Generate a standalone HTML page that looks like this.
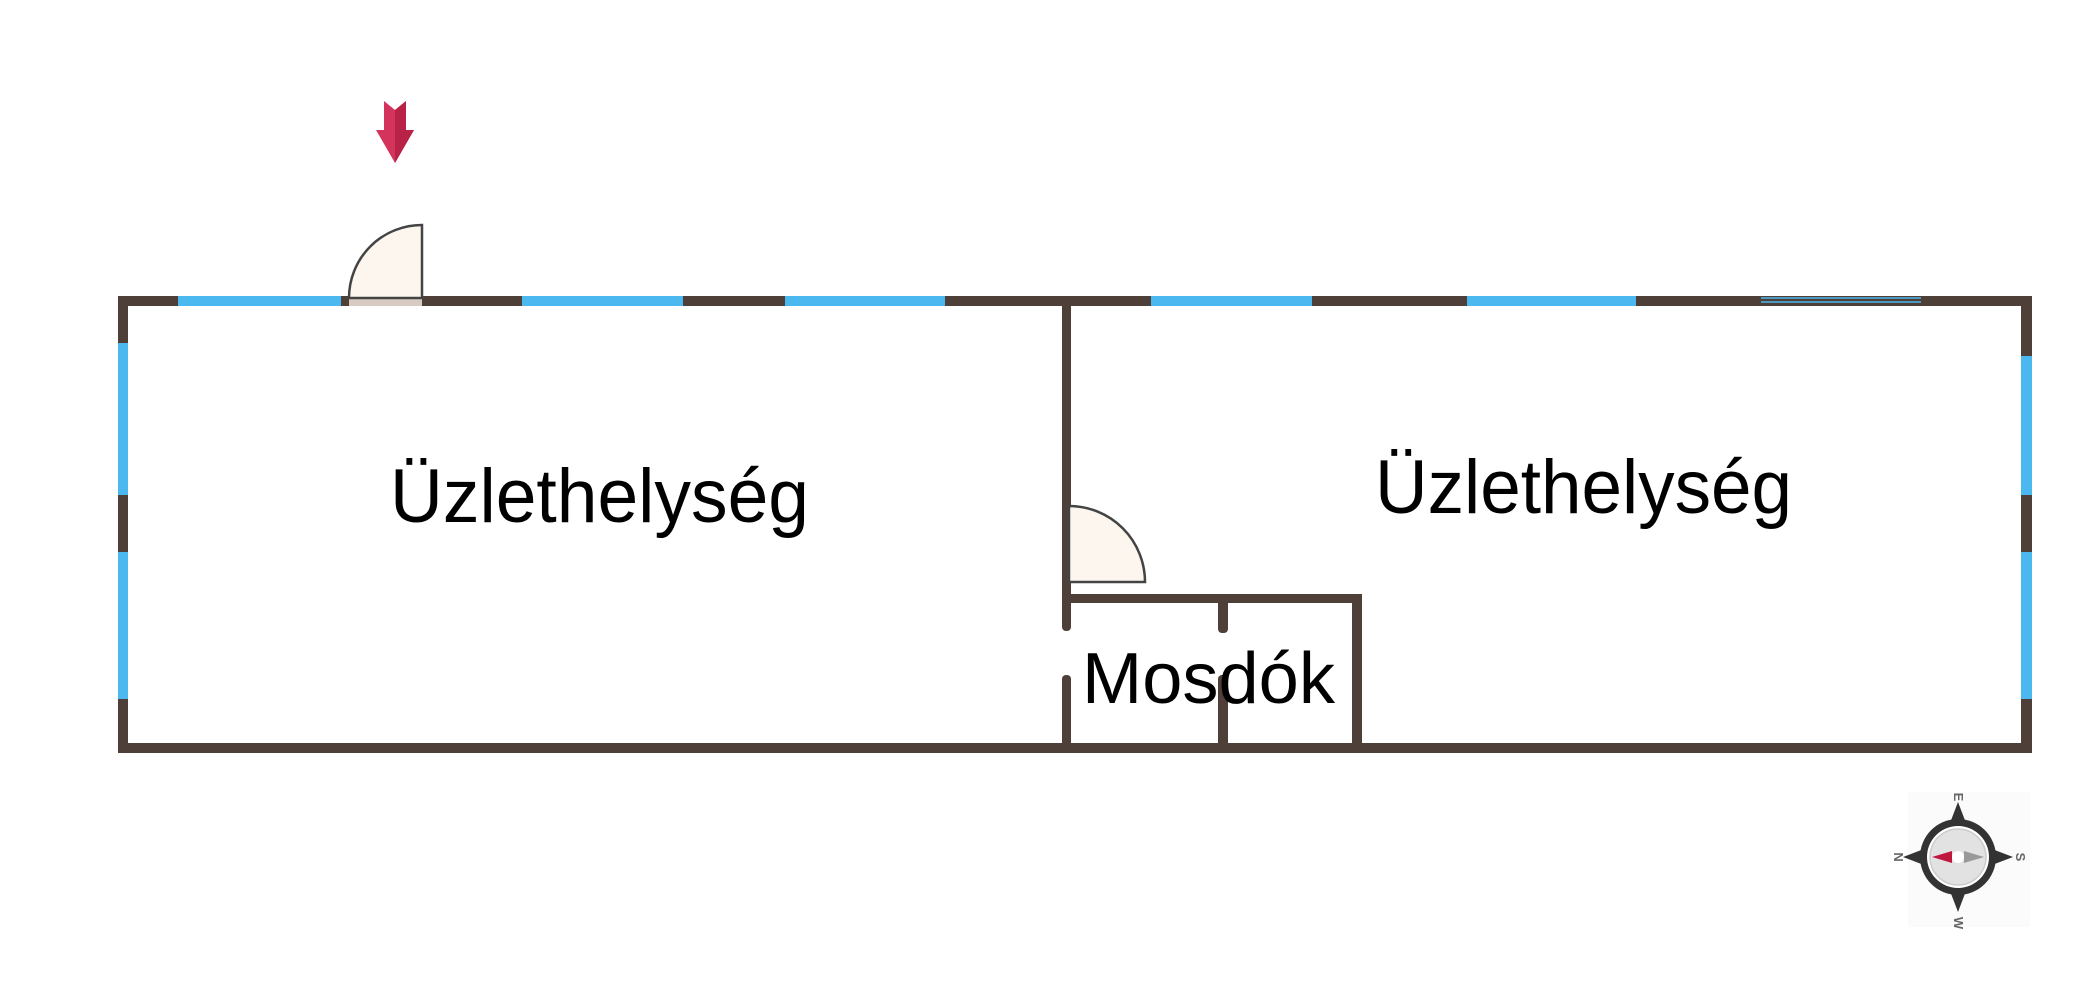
<!DOCTYPE html>
<html><head><meta charset="utf-8"><style>
html,body{margin:0;padding:0;background:#fff;}
svg{display:block;}
text{font-family:"Liberation Sans",Arial,sans-serif;fill:#000;}
</style></head><body>
<svg width="2100" height="1000" viewBox="0 0 2100 1000" xmlns="http://www.w3.org/2000/svg">
<g fill="#4e4038">
<rect x="118" y="296" width="1914" height="10"/>
<rect x="118" y="743" width="1914" height="10"/>
<rect x="118" y="296" width="10" height="457"/>
<rect x="2021" y="296" width="11" height="457"/>
<rect x="1062" y="296" width="9" height="335" rx="4"/>
<rect x="1062" y="675" width="9" height="78" rx="4"/>
<rect x="1062" y="594" width="300" height="9"/>
<rect x="1352" y="594" width="10" height="159"/>
<rect x="1218" y="594" width="10" height="39" rx="4"/>
<rect x="1218" y="675" width="10" height="78" rx="4"/>
</g>
<g fill="#4bb8f0">
<rect x="178" y="296" width="163" height="10"/>
<rect x="522" y="296" width="161" height="10"/>
<rect x="785" y="296" width="160" height="10"/>
<rect x="1151" y="296" width="161" height="10"/>
<rect x="1467" y="296" width="169" height="10"/>
<rect x="118" y="343" width="10" height="152"/>
<rect x="118" y="552" width="10" height="147"/>
<rect x="2021" y="356" width="11" height="139"/>
<rect x="2021" y="552" width="11" height="147"/>
</g>
<g stroke="#4bb8f0" stroke-width="1.5"><line x1="1761" y1="298" x2="1921" y2="298"/><line x1="1761" y1="302" x2="1921" y2="302"/></g>
<rect x="349" y="296" width="73" height="10" fill="#d8ccc2"/>
<path d="M422 298 L422 225 A73 73 0 0 0 349 298 Z" fill="#fdf6ef" stroke="#444" stroke-width="2.5"/>
<path d="M1069 582 L1069 506 A76 76 0 0 1 1145 582 Z" fill="#fdf6ef" stroke="#444" stroke-width="2.5"/>
<path d="M384 101 L395 110 L406 101 L406 130 L414 130 L395 163 L376 130 L384 130 Z" fill="#d4345c"/>
<path d="M395 110 L406 101 L406 130 L414 130 L395 163 Z" fill="#b82246"/>
<text x="390" y="522" font-size="76" textLength="419" lengthAdjust="spacingAndGlyphs">Üzlethelység</text>
<text x="1375" y="513" font-size="76" textLength="417" lengthAdjust="spacingAndGlyphs">Üzlethelység</text>
<text x="1082" y="703" font-size="72" textLength="253" lengthAdjust="spacingAndGlyphs">Mosdók</text>
<rect x="1908" y="792" width="122" height="135" fill="#fbfbfb"/>
<g transform="translate(1958 857)">
<path d="M0 -55 L8 -34 L-8 -34 Z M0 55 L8 34 L-8 34 Z M-55 0 L-34 -8 L-34 8 Z M55 0 L34 -8 L34 8 Z" fill="#333"/>
<circle r="38" fill="#333"/>
<circle r="31" fill="#fff"/>
<circle r="28" fill="#e2e2e2" stroke="#ccc" stroke-width="1.5"/>
<path d="M-26 0 L-6 -6 L-6 6 Z" fill="#c0173f"/>
<path d="M26 0 L6 -6 L6 6 Z" fill="#999"/>
<circle r="6" fill="#fff"/>
<text transform="translate(-4 -60) rotate(90)" font-size="13" font-weight="bold" style="fill:#666" text-anchor="middle">E</text>
<text transform="translate(-64 0) rotate(90)" font-size="13" font-weight="bold" style="fill:#666" text-anchor="middle">N</text>
<text transform="translate(58 0) rotate(90)" font-size="13" font-weight="bold" style="fill:#666" text-anchor="middle">S</text>
<text transform="translate(-4 66) rotate(90)" font-size="13" font-weight="bold" style="fill:#666" text-anchor="middle">W</text>
</g>
</svg>
</body></html>
